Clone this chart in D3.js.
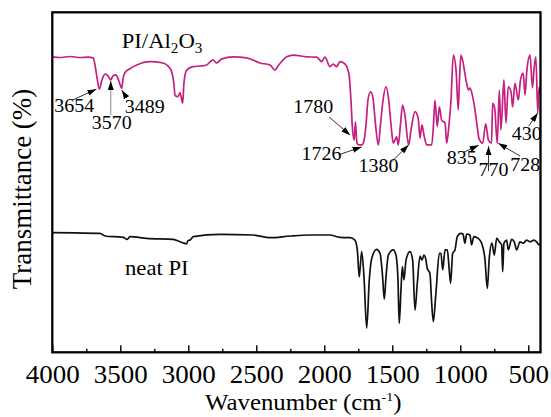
<!DOCTYPE html>
<html>
<head>
<meta charset="utf-8">
<script src="https://cdn.jsdelivr.net/npm/d3@7"></script>
<style>
  body { margin: 0; background: #fff; }
  svg text { font-family: "Liberation Serif", "Times New Roman", serif; fill: #000; }
</style>
</head>
<body>
<svg id="chart" width="551" height="417"></svg>
<script>
// FTIR spectra: PI/Al2O3 composite film (upper trace) and neat PI film (lower trace)
const wavenumberTicks = [4000, 3500, 3000, 2500, 2000, 1500, 1000, 500];

const compositeWavenumber = [
  4000, 3943, 3870, 3796, 3737, 3699, 3686, 3671, 3654, 3635, 3612, 3590, 3570, 3554, 3532, 3513,
  3489, 3480, 3466, 3429, 3379, 3282, 3186, 3149, 3122, 3105, 3098, 3076, 3061, 3041, 3032, 3012,
  2965, 2914, 2865, 2840, 2818, 2791, 2754, 2671, 2571, 2473, 2399, 2362, 2340, 2276, 2230, 2129,
  2056, 2019, 1995, 1958, 1934, 1909, 1885, 1848, 1826, 1816, 1804, 1793, 1780, 1771, 1760, 1745,
  1726, 1712, 1693, 1679, 1659, 1642, 1623, 1603, 1587, 1568, 1546, 1528, 1509, 1493, 1468, 1456,
  1440, 1424, 1407, 1380, 1362, 1333, 1309, 1296, 1282, 1267, 1247, 1210, 1197, 1186, 1169, 1154,
  1137, 1112, 1100, 1083, 1068, 1051, 1031, 1015, 1006, 995, 980, 966, 953, 940, 929, 909,
  892, 877, 863, 835, 813, 793, 770, 762, 747, 728, 713, 701, 679, 664, 647, 627,
  615, 598, 573, 557, 537, 524, 510, 487, 469, 458, 444, 430, 420, 410
];
const compositeTransmittance = [
  86.9, 86.7, 87.0, 86.7, 86.8, 86.6, 84.5, 80.7, 77.4, 80.1, 81.8, 81.3, 80.1, 81.3, 81.6, 80.1,
  77.7, 80.4, 82.2, 83.4, 84.5, 85.5, 85.1, 84.2, 82.5, 78.6, 75.6, 75.2, 76.3, 73.3, 79.2, 83.0,
  84.0, 84.2, 84.5, 85.4, 86.0, 85.1, 86.3, 86.9, 86.6, 85.1, 84.5, 83.0, 84.2, 86.9, 87.4, 86.9,
  86.8, 85.5, 86.8, 84.0, 84.8, 84.0, 85.5, 84.8, 83.0, 81.1, 74.2, 66.0, 62.4, 67.8, 61.6, 61.0,
  61.0, 61.6, 66.9, 74.2, 76.6, 74.8, 66.9, 61.0, 66.9, 74.2, 78.1, 74.8, 66.9, 61.5, 63.4, 61.0,
  66.9, 72.7, 69.8, 61.0, 65.4, 70.8, 68.8, 63.0, 66.9, 63.9, 61.0, 61.0, 66.9, 74.2, 66.4, 72.2,
  68.3, 67.4, 61.5, 66.9, 74.2, 87.4, 83.0, 71.3, 80.1, 87.4, 85.4, 82.0, 79.1, 77.1, 77.7, 75.2,
  71.3, 66.9, 63.0, 61.5, 67.2, 62.4, 61.5, 73.2, 71.8, 61.5, 77.1, 65.4, 80.1, 67.4, 78.1, 76.6,
  72.2, 79.1, 74.2, 80.1, 82.1, 75.6, 83.0, 87.4, 77.8, 83.1, 86.9, 70.4, 78.0, 76.0
];

const neatWavenumber = [
  4000, 3833, 3649, 3612, 3478, 3449, 3429, 3306, 3110, 3061, 3032, 3012, 3002, 2988, 2963, 2767,
  2522, 2399, 2252, 2105, 1958, 1885, 1811, 1775, 1757, 1743, 1725, 1708, 1688, 1669, 1651, 1615,
  1590, 1571, 1559, 1546, 1529, 1493, 1473, 1458, 1449, 1436, 1426, 1414, 1399, 1370, 1350, 1333,
  1316, 1296, 1282, 1267, 1252, 1243, 1223, 1210, 1198, 1179, 1154, 1142, 1129, 1112, 1095, 1083,
  1071, 1056, 1039, 1022, 997, 980, 966, 953, 929, 917, 900, 868, 843, 819, 801, 787,
  767, 750, 732, 713, 696, 688, 679, 659, 647, 622, 603, 585, 561, 537, 512, 488,
  458, 439, 420, 410
];
const neatTransmittance = [
  35.2, 35.1, 35.0, 34.2, 33.8, 33.2, 34.0, 33.5, 33.2, 32.5, 32.1, 31.9, 32.9, 33.0, 34.0, 34.7,
  34.5, 33.7, 34.2, 34.5, 34.5, 33.8, 33.7, 33.0, 30.1, 22.2, 29.6, 22.2, 7.1, 21.3, 27.6, 30.3,
  29.1, 22.2, 15.6, 22.2, 28.6, 30.1, 28.6, 21.3, 8.5, 18.3, 25.2, 21.3, 27.1, 29.6, 27.1, 12.4,
  20.3, 28.3, 27.1, 28.6, 27.1, 24.7, 23.2, 14.4, 9.0, 17.4, 29.1, 29.1, 24.2, 30.1, 30.1, 25.2,
  20.3, 29.1, 30.1, 34.0, 35.0, 34.8, 32.1, 34.8, 34.5, 31.6, 34.0, 33.5, 32.1, 27.6, 18.8, 27.6,
  32.1, 28.6, 33.5, 32.5, 31.6, 23.7, 32.1, 33.0, 30.1, 33.2, 32.5, 30.1, 32.5, 32.1, 33.0, 32.5,
  33.0, 32.5, 31.6, 31.9
];

// Band assignments marked on the composite trace
const peakLabels = [3654, 3570, 3489, 1780, 1726, 1380, 835, 770, 728, 430];

// Arrow layout per band: tip offset from the band point, tail and text offsets from the tip
const peakLayout = {
  3654: { tip: [-3, 0],    tail: [-24, 11],  text: [-42, 23] },
  3570: { tip: [0, 1],     tail: [0, 34],    text: [-19, 48], grey: true },
  3489: { tip: [0, 2],     tail: [5, 8],     text: [3, 23] },
  1780: { tip: [-4, -5],   tail: [-21, -18], text: [-57, -22] },
  1726: { tip: [0, 2],     tail: [-23, 8],   text: [-60, 13] },
  1380: { tip: [0, 0],     tail: [-17, 17],  text: [-50, 27] },
  835:  { tip: [-4, 2],    tail: [-15, 7],   text: [-32, 19] },
  770:  { tip: [-3, 3],    tail: [0, 25],    text: [-10, 30] },
  728:  { tip: [1, 0],     tail: [22, 13],   text: [12, 28] },
  430:  { tip: [0, 0],     tail: [-9, 13],   text: [-26, 27] }
};

const W = 551, H = 417;
const margin = { left: 52.3, right: 10.5, top: 12.3, bottom: 64.7 };
const plotW = W - margin.left - margin.right;
const plotH = H - margin.top - margin.bottom;
const stretch = 1.08; // slightly widened serif lettering
const serif = '"Liberation Serif", "Times New Roman", serif';

const svg = d3.select("#chart");
const g = svg.append("g").attr("transform", `translate(${margin.left},${margin.top})`);

const x = d3.scaleLinear().domain([4000, 410]).range([0, plotW]);
const y = d3.scaleLinear().domain([0, 100]).range([plotH, 0]);

// Arrowhead marker
svg.append("defs").append("marker")
  .attr("id", "head")
  .attr("viewBox", "0 0 9 6")
  .attr("refX", 9).attr("refY", 3)
  .attr("markerWidth", 9).attr("markerHeight", 6)
  .attr("markerUnits", "userSpaceOnUse")
  .attr("orient", "auto")
  .append("path").attr("d", "M0,0 L9,3 L0,6 Z").attr("fill", "#000");

// Spectra
const line = d3.line()
  .x(d => x(d[0]))
  .y(d => y(d[1]))
  .curve(d3.curveMonotoneX);

const compositeData = compositeWavenumber.map((w, i) => [w, compositeTransmittance[i]]);
const neatData = neatWavenumber.map((w, i) => [w, neatTransmittance[i]]);

g.append("clipPath").attr("id", "plotClip")
  .append("rect").attr("width", plotW).attr("height", plotH);

const traces = g.append("g").attr("clip-path", "url(#plotClip)");
traces.append("path").datum(neatData)
  .attr("d", line).attr("fill", "none")
  .attr("stroke", "#111").attr("stroke-width", 1.7).attr("stroke-linejoin", "round");
traces.append("path").datum(compositeData)
  .attr("d", line).attr("fill", "none")
  .attr("stroke", "#c51f80").attr("stroke-width", 1.7).attr("stroke-linejoin", "round");

// Minor and major ticks pointing into the plot
const minorAxis = d3.axisBottom(x)
  .tickValues(d3.range(3750, 410, -500))
  .tickSizeInner(-3.5).tickSizeOuter(0).tickFormat("");
g.append("g").attr("transform", `translate(0,${plotH})`).call(minorAxis)
  .call(a => a.select(".domain").remove())
  .call(a => a.selectAll("line").attr("stroke-width", 1.4));

const majorAxis = d3.axisBottom(x)
  .tickValues(wavenumberTicks)
  .tickSizeInner(-7).tickSizeOuter(0).tickFormat(d3.format("d"));
g.append("g").attr("transform", `translate(0,${plotH})`).call(majorAxis)
  .attr("font-family", serif)
  .call(a => a.select(".domain").remove())
  .call(a => a.selectAll("line").attr("stroke-width", 1.4))
  .call(a => a.selectAll("text")
    .attr("y", 30.4).attr("dy", 0)
    .attr("font-size", 25)
    .style("font-family", serif)
    .attr("fill", "#000")
    .attr("transform", `scale(${stretch},1)`));

// Frame
g.append("rect").attr("width", plotW).attr("height", plotH)
  .attr("fill", "none").attr("stroke", "#000").attr("stroke-width", 2.3);

// Axis titles
const xTitle = svg.append("text")
  .attr("text-anchor", "middle")
  .attr("font-size", 23)
  .attr("transform", `translate(${margin.left + 251},410) scale(${stretch},1)`);
xTitle.append("tspan").text("Wavenumber (cm");
xTitle.append("tspan").attr("font-size", 13).attr("dy", -9).text("-1");
xTitle.append("tspan").attr("dy", 9).text(")");

svg.append("text")
  .attr("text-anchor", "middle")
  .attr("font-size", 27)
  .attr("transform", "translate(31,189) rotate(-90)")
  .text("Transmittance (%)");

// Series labels
const compLabel = g.append("text")
  .attr("font-size", 21)
  .attr("transform", `translate(${121.7 - margin.left},${47.7 - margin.top}) scale(${stretch},1)`);
compLabel.append("tspan").text("PI/Al");
compLabel.append("tspan").attr("font-size", 14).attr("dy", 5).text("2");
compLabel.append("tspan").attr("dy", -5).text("O");
compLabel.append("tspan").attr("font-size", 14).attr("dy", 5).text("3");

g.append("text")
  .attr("font-size", 21)
  .attr("transform", `translate(${125 - margin.left},${275 - margin.top}) scale(${stretch},1)`)
  .text("neat PI");

// Band annotations with arrows
const ann = g.append("g");
peakLabels.forEach(wn => {
  const i = compositeWavenumber.indexOf(wn);
  const L = peakLayout[wn];
  const tx = x(wn) + L.tip[0];
  const ty = y(compositeTransmittance[i]) + L.tip[1];
  ann.append("line")
    .attr("x1", tx + L.tail[0]).attr("y1", ty + L.tail[1])
    .attr("x2", tx).attr("y2", ty)
    .attr("stroke", L.grey ? "#8a8a8a" : "#333")
    .attr("stroke-width", 1)
    .attr("marker-end", "url(#head)");
  ann.append("text")
    .attr("font-size", 18.5)
    .attr("transform", `translate(${tx + L.text[0]},${ty + L.text[1]}) scale(${stretch},1)`)
    .text(wn);
});
</script>
</body>
</html>
